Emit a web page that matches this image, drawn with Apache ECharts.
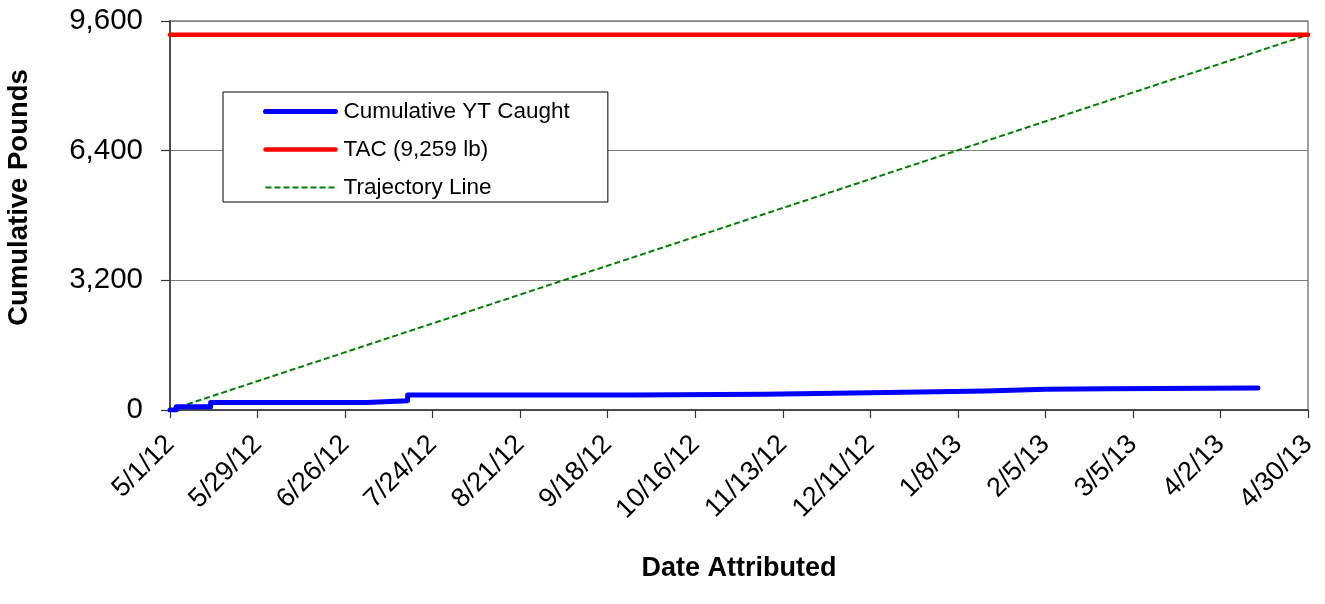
<!DOCTYPE html>
<html>
<head>
<meta charset="utf-8">
<script src="https://cdn.jsdelivr.net/npm/echarts@6/dist/echarts.min.js"></script>
<style>html,body{margin:0;padding:0;background:#fff}#c{width:1325px;height:604px}</style>
</head>
<body>
<div id="c"></div>
<script>
// Day offsets from 5/1/12
var tickLabels = ['5/1/12','5/29/12','6/26/12','7/24/12','8/21/12','9/18/12','10/16/12','11/13/12','12/11/12','1/8/13','2/5/13','3/5/13','4/2/13','4/30/13'];
var catchDays   = [0, 2, 13, 63, 76, 148, 190, 224, 261, 280, 300, 348];
var catchPounds = [0, 80, 185, 230, 370, 388, 425, 469, 511, 526, 545, 545];
var tacValue = 9259;
var seasonDays = [0, 364];

var catchData = catchDays.map(function (d, i) { return [d, catchPounds[i]]; });
var tacData = seasonDays.map(function (d) { return [d, tacValue]; });
var trajData = [[seasonDays[0], 0], [seasonDays[1], tacValue]];

var font = 'Liberation Sans, Arial, sans-serif';
var chart = echarts.init(document.getElementById('c'));
chart.setOption({
  animation: false,
  textStyle: { fontFamily: font },
  grid: { left: 170, right: 17, top: 21, bottom: 194, show: true, borderColor: '#808080', borderWidth: 1.5,
          containLabel: false, outerBoundsMode: 'none' },
  legend: {
    orient: 'vertical', left: 223, top: 92,
    padding: [8, 38, 3, 40],
    borderColor: '#000', borderWidth: 1, backgroundColor: '#fff',
    itemWidth: 70, itemHeight: 14, itemGap: 15,
    itemStyle: { opacity: 0 },
    lineStyle: { width: 'inherit' },
    textStyle: { fontSize: 22.5, lineHeight: 22, color: '#000', fontFamily: font, padding: [0, 0, 0, 3] },
    data: ['Cumulative YT Caught', 'TAC (9,259 lb)', 'Trajectory Line']
  },
  xAxis: {
    type: 'value', min: 0, max: 364, interval: 28,
    name: 'Date Attributed', nameLocation: 'middle', nameGap: 145,
    nameTextStyle: { fontSize: 27, fontWeight: 'bold', color: '#000', fontFamily: font },
    axisLine: { show: true, onZero: false, lineStyle: { color: '#333', width: 1.5 } },
    axisTick: { show: true, length: 8, lineStyle: { color: '#333', width: 1.2 } },
    splitLine: { show: false },
    axisLabel: {
      rotate: 45, margin: 30, fontSize: 27, color: '#000', fontFamily: font,
      formatter: function (v) { return tickLabels[Math.round(v / 28)] || ''; }
    }
  },
  yAxis: {
    type: 'value', min: 0, max: 9600, interval: 3200,
    name: 'Cumulative Pounds', nameLocation: 'middle', nameGap: 137,
    nameTextStyle: { fontSize: 27.5, fontWeight: 'bold', color: '#000', fontFamily: font, padding: [0, 0, 0, 36] },
    axisLine: { show: true, lineStyle: { color: '#333', width: 1.5 } },
    axisTick: { show: true, length: 9, inside: false, lineStyle: { color: '#333', width: 1.2 } },
    splitLine: { show: true, lineStyle: { color: '#808080', width: 1.2 } },
    axisLabel: {
      margin: 27, fontSize: 29.5, color: '#000', fontFamily: font,
      formatter: function (v) { return v.toLocaleString('en-US'); }
    }
  },
  series: [
    { name: 'Cumulative YT Caught', type: 'line', data: catchData, step: 'end', symbol: 'none',
      lineStyle: { color: '#0000ff', width: 5, cap: 'round', join: 'round' }, itemStyle: { color: '#0000ff' }, z: 4 },
    { name: 'TAC (9,259 lb)', type: 'line', data: tacData, symbol: 'none',
      lineStyle: { color: '#ff0000', width: 4.5, cap: 'round' }, itemStyle: { color: '#ff0000' }, z: 3 },
    { name: 'Trajectory Line', type: 'line', data: trajData, symbol: 'none',
      lineStyle: { color: '#008000', width: 2, type: [6, 3] }, itemStyle: { color: '#008000' }, z: 2 }
  ]
});
</script>
</body>
</html>
